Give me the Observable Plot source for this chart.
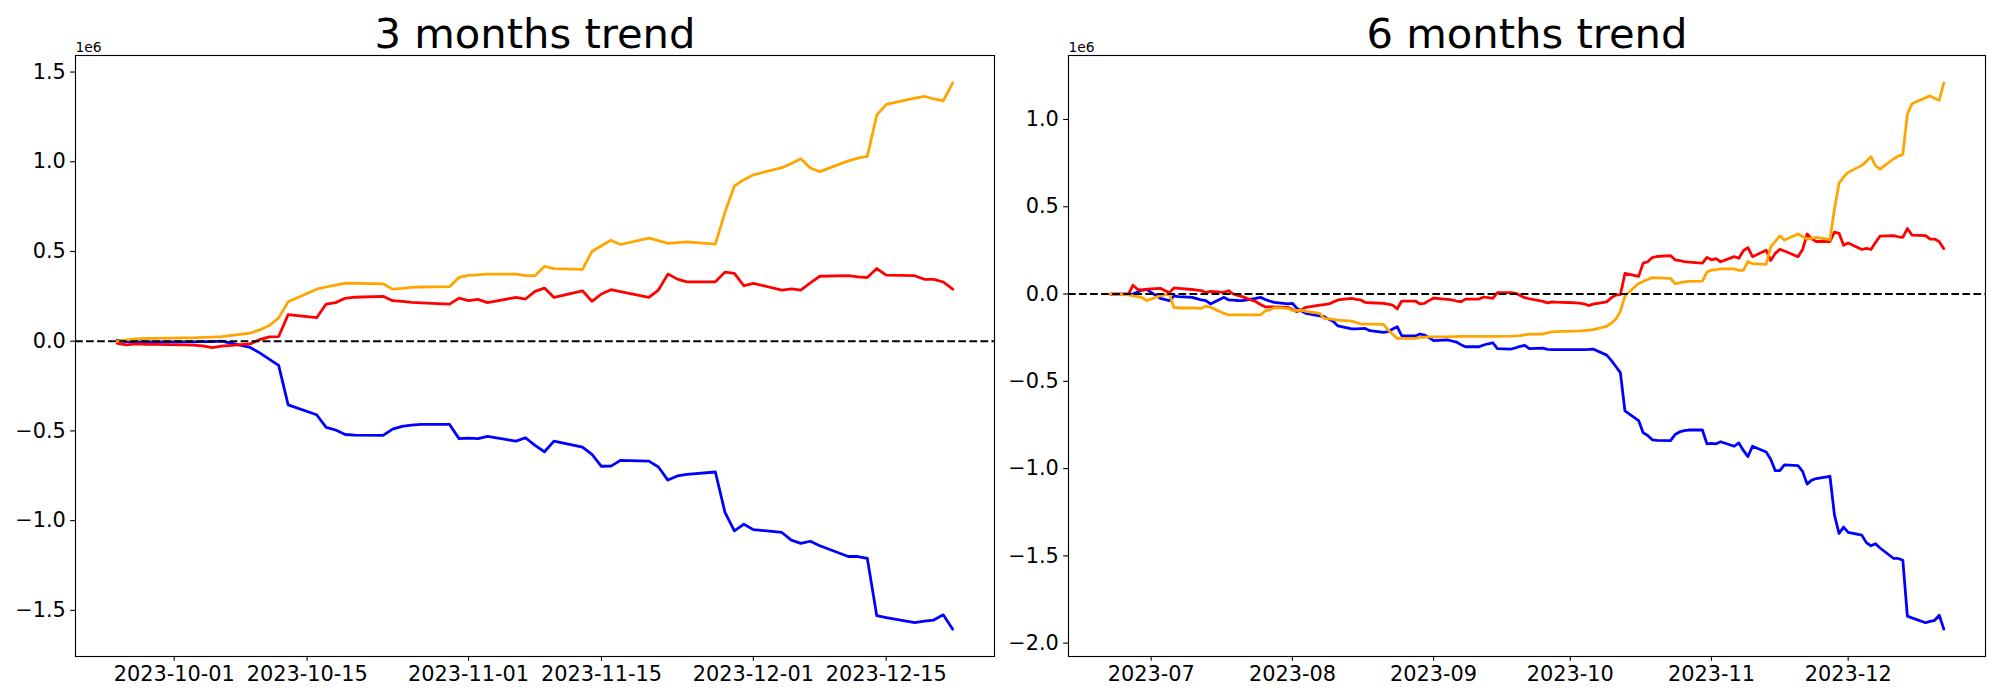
<!DOCTYPE html>
<html><head><meta charset="utf-8">
<script src="https://cdn.jsdelivr.net/npm/d3@7"></script>
<script src="https://cdn.jsdelivr.net/npm/@observablehq/plot@0.6"></script>
<style>
html,body{margin:0;padding:0;background:#fff;}
#wrap{display:flex;width:2000px;height:700px;}
#wrap svg{flex:none;}
</style></head><body><div id="wrap"></div>
<script>
// ---------- 3 months panel (values in millions) ----------
const dates3m = ["2023-09-25","2023-09-26","2023-09-27","2023-09-28","2023-09-29",
"2023-10-02","2023-10-03","2023-10-04","2023-10-05","2023-10-06",
"2023-10-09","2023-10-10","2023-10-11","2023-10-12","2023-10-13",
"2023-10-16","2023-10-17","2023-10-18","2023-10-19","2023-10-20",
"2023-10-23","2023-10-24","2023-10-25","2023-10-26","2023-10-27",
"2023-10-30","2023-10-31",
"2023-11-01","2023-11-02","2023-11-03",
"2023-11-06","2023-11-07","2023-11-08","2023-11-09","2023-11-10",
"2023-11-13","2023-11-14","2023-11-15","2023-11-16","2023-11-17",
"2023-11-20","2023-11-21","2023-11-22","2023-11-23","2023-11-24",
"2023-11-27","2023-11-28","2023-11-29","2023-11-30",
"2023-12-01",
"2023-12-04","2023-12-05","2023-12-06","2023-12-07","2023-12-08",
"2023-12-11","2023-12-12","2023-12-13","2023-12-14","2023-12-15",
"2023-12-18","2023-12-19","2023-12-20","2023-12-21","2023-12-22"];

const blue3m = [0.005,-0.002,-0.004,-0.004,-0.004,
-0.004,-0.004,-0.003,-0.002,0.000,
-0.035,-0.065,-0.100,-0.135,-0.355,
-0.410,-0.480,-0.495,-0.520,-0.523,
-0.525,-0.490,-0.475,-0.468,-0.464,
-0.464,-0.543,
-0.540,-0.543,-0.531,
-0.557,-0.538,-0.581,-0.616,-0.557,
-0.590,-0.631,-0.697,-0.696,-0.664,
-0.668,-0.701,-0.774,-0.751,-0.742,
-0.729,-0.952,-1.057,-1.020,
-1.050,
-1.066,-1.109,-1.127,-1.115,-1.140,
-1.200,-1.200,-1.210,-1.530,-1.540,
-1.568,-1.560,-1.554,-1.525,-1.605];

const red3m = [-0.012,-0.021,-0.015,-0.017,-0.018,
-0.020,-0.022,-0.026,-0.036,-0.028,
-0.015,0.009,0.024,0.026,0.148,
0.131,0.207,0.215,0.239,0.245,
0.250,0.226,0.222,0.216,0.213,
0.207,0.240,
0.226,0.233,0.215,
0.244,0.235,0.278,0.296,0.244,
0.281,0.222,0.263,0.287,0.276,
0.244,0.285,0.374,0.346,0.331,
0.331,0.385,0.378,0.309,
0.322,
0.285,0.291,0.285,0.325,0.362,
0.365,0.358,0.355,0.405,0.368,
0.365,0.345,0.345,0.330,0.290];

const orange3m = [0.000,0.008,0.013,0.015,0.016,
0.018,0.019,0.021,0.023,0.026,
0.045,0.063,0.087,0.130,0.220,
0.290,0.302,0.313,0.324,0.323,
0.320,0.290,0.294,0.300,0.302,
0.304,0.356,
0.367,0.370,0.374,
0.374,0.365,0.365,0.417,0.404,
0.400,0.500,0.532,0.563,0.539,
0.574,0.560,0.545,0.550,0.554,
0.541,0.717,0.865,0.900,
0.927,
0.967,0.990,1.017,0.965,0.945,
1.005,1.020,1.030,1.260,1.320,
1.355,1.365,1.350,1.340,1.440];

// ---------- 6 months panel (values in millions) ----------
const dates6m = ["2023-06-22","2023-06-23","2023-06-26","2023-06-27","2023-06-28","2023-06-29","2023-06-30",
"2023-07-03","2023-07-05","2023-07-06","2023-07-07",
"2023-07-10","2023-07-11","2023-07-12","2023-07-13","2023-07-14",
"2023-07-17","2023-07-18","2023-07-19","2023-07-20","2023-07-21",
"2023-07-24","2023-07-25","2023-07-26","2023-07-27","2023-07-28",
"2023-07-31",
"2023-08-01","2023-08-02","2023-08-03","2023-08-04",
"2023-08-07","2023-08-08","2023-08-09","2023-08-10","2023-08-11",
"2023-08-14","2023-08-15","2023-08-16","2023-08-17","2023-08-18",
"2023-08-21","2023-08-22","2023-08-23","2023-08-24","2023-08-25",
"2023-08-28","2023-08-29","2023-08-30","2023-08-31",
"2023-09-01",
"2023-09-04","2023-09-05","2023-09-06","2023-09-07","2023-09-08",
"2023-09-11","2023-09-12","2023-09-13","2023-09-14","2023-09-15",
"2023-09-18","2023-09-19","2023-09-20","2023-09-21","2023-09-22",
...dates3m];

const blue6m = [0.000,0.000,0.000,0.000,0.012,0.023,0.027,
-0.025,-0.038,-0.011,-0.015,
-0.019,-0.026,-0.034,-0.038,-0.057,
-0.019,-0.034,-0.035,-0.037,-0.038,
-0.025,-0.019,-0.031,-0.040,-0.048,
-0.057,
-0.053,-0.082,-0.097,-0.111,
-0.125,-0.130,-0.145,-0.158,-0.183,
-0.200,-0.199,-0.198,-0.197,-0.210,
-0.220,-0.216,-0.200,-0.187,-0.239,
-0.240,-0.229,-0.235,-0.250,
-0.267,
-0.263,-0.269,-0.275,-0.290,-0.302,
-0.302,-0.292,-0.285,-0.279,-0.313,
-0.315,-0.308,-0.300,-0.294,-0.313,
-0.310,-0.317,-0.319,-0.319,-0.319,
-0.319,-0.319,-0.318,-0.317,-0.315,
-0.350,-0.380,-0.415,-0.450,-0.670,
-0.725,-0.795,-0.810,-0.835,-0.838,
-0.840,-0.805,-0.790,-0.783,-0.779,
-0.779,-0.858,
-0.855,-0.858,-0.846,
-0.872,-0.853,-0.896,-0.931,-0.872,
-0.905,-0.946,-1.012,-1.011,-0.979,
-0.983,-1.016,-1.089,-1.066,-1.057,
-1.044,-1.267,-1.372,-1.335,
-1.365,
-1.381,-1.424,-1.442,-1.430,-1.455,
-1.515,-1.515,-1.525,-1.845,-1.855,
-1.883,-1.875,-1.869,-1.840,-1.920];

const red6m = [0.000,0.000,0.000,0.050,0.027,0.023,0.028,
0.033,0.008,0.035,0.033,
0.026,0.023,0.020,0.008,0.015,
0.010,0.019,0.000,-0.008,-0.015,
-0.044,-0.060,-0.073,-0.073,-0.073,
-0.076,
-0.088,-0.101,-0.088,-0.076,
-0.063,-0.060,-0.057,-0.045,-0.034,
-0.025,-0.030,-0.034,-0.048,-0.050,
-0.053,-0.058,-0.063,-0.086,-0.040,
-0.040,-0.057,-0.053,-0.038,
-0.023,
-0.030,-0.034,-0.040,-0.044,-0.029,
-0.029,-0.017,-0.021,-0.025,0.008,
0.008,0.004,-0.008,-0.021,-0.027,
-0.042,-0.051,-0.045,-0.047,-0.048,
-0.050,-0.052,-0.056,-0.066,-0.058,
-0.045,-0.021,-0.006,-0.004,0.118,
0.101,0.177,0.185,0.209,0.215,
0.220,0.196,0.192,0.186,0.183,
0.177,0.210,
0.196,0.203,0.185,
0.214,0.205,0.248,0.266,0.214,
0.251,0.192,0.233,0.257,0.246,
0.214,0.255,0.344,0.316,0.301,
0.301,0.355,0.348,0.279,
0.292,
0.255,0.261,0.255,0.295,0.332,
0.335,0.328,0.325,0.375,0.338,
0.335,0.315,0.315,0.300,0.260];

const orange6m = [0.000,0.000,-0.005,-0.010,-0.015,-0.020,-0.038,
-0.010,0.000,-0.077,-0.080,
-0.080,-0.081,-0.082,-0.069,-0.075,
-0.111,-0.120,-0.120,-0.120,-0.120,
-0.120,-0.120,-0.097,-0.092,-0.078,
-0.082,
-0.095,-0.094,-0.092,-0.100,
-0.111,-0.140,-0.142,-0.145,-0.150,
-0.155,-0.163,-0.172,-0.173,-0.173,
-0.174,-0.206,-0.230,-0.254,-0.254,
-0.254,-0.248,-0.247,-0.246,
-0.245,
-0.245,-0.244,-0.244,-0.243,-0.243,
-0.242,-0.242,-0.242,-0.242,-0.242,
-0.241,-0.240,-0.238,-0.234,-0.230,
-0.230,-0.222,-0.217,-0.215,-0.214,
-0.212,-0.211,-0.209,-0.207,-0.204,
-0.185,-0.167,-0.143,-0.100,-0.010,
0.060,0.072,0.083,0.094,0.093,
0.090,0.060,0.064,0.070,0.072,
0.074,0.126,
0.137,0.140,0.144,
0.144,0.135,0.135,0.187,0.174,
0.170,0.270,0.302,0.333,0.309,
0.344,0.330,0.315,0.320,0.324,
0.311,0.487,0.635,0.670,
0.697,
0.737,0.760,0.787,0.735,0.715,
0.775,0.790,0.800,1.030,1.090,
1.125,1.135,1.120,1.110,1.210];

// ---------- ticks ----------
const xTicks3m = ["2023-10-01","2023-10-15","2023-11-01","2023-11-15","2023-12-01","2023-12-15"];
const xTicks6m = ["2023-07-01","2023-08-01","2023-09-01","2023-10-01","2023-11-01","2023-12-01"];
const yTicks3m = [-1.5,-1.0,-0.5,0.0,0.5,1.0,1.5];
const yTicks6m = [-2.0,-1.5,-1.0,-0.5,0.0,0.5,1.0];

const PT = 100/72;
const toDate = s => new Date(s + "T00:00:00Z");

function makePanel(cfg) {
  const dates = cfg.dates.map(toDate);
  const t0 = +dates[0], t1 = +dates[dates.length - 1];
  const pad = (t1 - t0) * 0.05;
  const series = (vals) => dates.map((d, i) => ({date: d, value: vals[i]}));
  const allVals = [...cfg.blue, ...cfg.red, ...cfg.orange];
  const lo = d3.min(allVals), hi = d3.max(allVals), yp = (hi - lo) * 0.05;
  const fmtY = v => v.toFixed(1).replace("-", "\u2212");
  const fmtX = d3.utcFormat(cfg.xFormat);
  const lw = 2 * PT;
  const titleSize = 30 * PT, offSize = 10 * PT;
  return Plot.plot({
    width: 1000, height: 700,
    marginTop: 55, marginBottom: 44, marginLeft: cfg.ml, marginRight: cfg.mr,
    style: {fontFamily: "'DejaVu Sans', sans-serif", fontSize: (15 * PT) + "px", background: "transparent", color: "black", overflow: "visible"},
    x: {type: "utc", domain: [new Date(t0 - pad), new Date(t1 + pad)]},
    y: {domain: [lo - yp, hi + yp]},
    marks: [
      Plot.line(series(cfg.blue), {x: "date", y: "value", stroke: "blue", strokeWidth: lw}),
      Plot.line(series(cfg.red), {x: "date", y: "value", stroke: "red", strokeWidth: lw}),
      Plot.line(series(cfg.orange), {x: "date", y: "value", stroke: "orange", strokeWidth: lw}),
      Plot.ruleY([0], {stroke: "black", strokeWidth: 1.5 * PT, strokeDasharray: `${5.55 * PT},${2.4 * PT}`}),
      Plot.frame({stroke: "black", strokeWidth: 0.8 * PT}),
      Plot.axisX(cfg.xTicks.map(toDate), {tickFormat: fmtX, tickSize: 3.5 * PT, tickPadding: 3.5 * PT, strokeWidth: 0.8 * PT, fontSize: 15 * PT, label: null}),
      Plot.axisY(cfg.yTicks, {tickFormat: fmtY, tickSize: 3.5 * PT, tickPadding: 3.5 * PT, strokeWidth: 0.8 * PT, fontSize: 15 * PT, label: null}),
      Plot.text(["1e6"], {text: d => d, frameAnchor: "top-left", lineAnchor: "top", textAnchor: "start", dy: -4 - 0.71 * offSize, fontSize: offSize}),
      Plot.text([cfg.title], {text: d => d, frameAnchor: "top", lineAnchor: "top", dy: -8 - 0.71 * titleSize, fontSize: titleSize})
    ]
  });
}

const wrap = document.getElementById("wrap");
wrap.append(makePanel({
  title: "3 months trend", dates: dates3m, blue: blue3m, red: red3m, orange: orange3m,
  xTicks: xTicks3m, xFormat: "%Y-%m-%d", yTicks: yTicks3m, ml: 75, mr: 6
}));
wrap.append(makePanel({
  title: "6 months trend", dates: dates6m, blue: blue6m, red: red6m, orange: orange6m,
  xTicks: xTicks6m, xFormat: "%Y-%m", yTicks: yTicks6m, ml: 68, mr: 15
}));
</script>
</body></html>
